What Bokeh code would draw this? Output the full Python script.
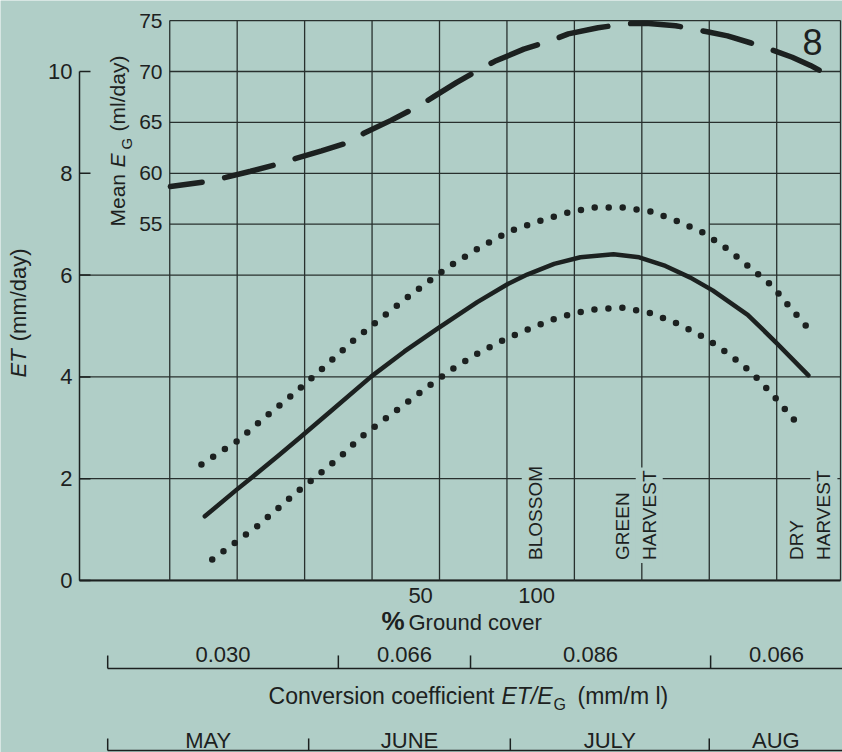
from math import pi

from bokeh.core.properties import value
from bokeh.embed import file_html
from bokeh.models import Range1d
from bokeh.plotting import figure
from bokeh.resources import INLINE

# ---------------------------------------------------------------------------
# Data (x = days counted from 1 May)
# ---------------------------------------------------------------------------
# Mean E_G (ml/day), dashed curve
eg_day = [10.1, 15.6, 18.3, 22.0, 26.0, 28.4, 32.5, 36.4, 38.7, 42.8,
          46.9, 49.1, 52.5, 55.9, 58.2, 62.5, 66.8, 69.1, 73.5, 77.9,
          80.6, 85.0, 89.7, 92.7, 96.2, 99.8, 102.3, 105.0, 107.5, 108.6]
eg_ml = [58.7, 59.2, 59.6, 60.2, 60.9, 61.4, 62.2, 63.0, 63.9, 65.2,
         66.6, 67.5, 68.9, 70.2, 71.0, 72.2, 73.1, 73.7, 74.3, 74.7,
         74.75, 74.5, 73.9, 73.5, 72.8, 72.0, 71.4, 70.6, 69.7, 69.3]

# ET (mm/day), solid curve
et_day = [15.2, 19.8, 22.4, 26.0, 29.4, 34.0, 39.9, 44.8, 49.7, 55.6,
          60.2, 63.0, 67.0, 70.9, 75.8, 79.6, 83.5, 87.2, 90.5, 95.7,
          100.1, 104.7]
et_mm = [1.26, 1.77, 2.05, 2.44, 2.82, 3.34, 4.01, 4.50, 4.95, 5.47,
         5.83, 6.01, 6.22, 6.35, 6.41, 6.35, 6.18, 5.95, 5.70, 5.22,
         4.65, 4.03]

# ET upper and lower limits, dotted curves
upper_day = [14.7, 19.9, 24.8, 28.2, 32.7, 37.1, 41.1, 46.0, 51.2, 56.2,
             60.4, 64.5, 68.5, 72.8, 77.1, 81.3, 85.1, 89.3, 92.8, 96.0,
             99.4, 102.0, 104.7]
upper_mm = [2.28, 2.73, 3.28, 3.65, 4.17, 4.70, 5.13, 5.64, 6.15, 6.56,
            6.86, 7.05, 7.21, 7.33, 7.33, 7.25, 7.07, 6.82, 6.50, 6.15,
            5.78, 5.36, 4.95]
lower_day = [16.3, 19.75, 22.9, 26.0, 28.8, 31.9, 35.2, 38.3, 42.0, 45.4,
             48.9, 52.2, 55.9, 59.9, 63.8, 67.6, 72.4, 77.1, 81.4, 85.6,
             89.6, 93.2, 96.4, 99.4, 102.3, 103.5]
lower_mm = [0.41, 0.75, 1.06, 1.41, 1.73, 2.06, 2.42, 2.81, 3.18, 3.52,
            3.87, 4.18, 4.48, 4.75, 4.97, 5.17, 5.32, 5.36, 5.25, 5.03,
            4.75, 4.42, 4.07, 3.65, 3.20, 3.01]

et_ticks = [0, 2, 4, 6, 8, 10]
et_grid = [0, 2, 4, 6]
eg_ticks = [75, 70, 65, 60, 55]
eg_grid_full = [60, 65, 70, 75]
grid_days = [10, 20, 30, 40, 50, 60, 70, 80, 90, 100]

# % ground cover reached on these days
cover_labels = ["50", "100"]
cover_day = [47.2, 64.4]

# conversion coefficient ET/E_G by period
coef_start = [0.8, 35.0, 54.6, 90.2]
coef_labels = ["0.030", "0.066", "0.086", "0.066"]

# months
month_start = [0.8, 30.6, 60.5, 90.0]
month_names = ["MAY", "JUNE", "JULY", "AUG"]

# crop stages (rotated labels)
stage_text = ["BLOSSOM", "GREEN", "HARVEST", "DRY", "HARVEST"]
stage_day = [64.2, 77.1, 81.1, 103.0, 107.0]

# ---------------------------------------------------------------------------
# Figure
# ---------------------------------------------------------------------------
BG = "#b0cec7"
INK = "#1c2120"
GRID = "#28302e"
FONT = "Liberation Sans"

X0, X1 = -15.095, 109.756
Y0, Y1 = -3.38, 11.395
AXIS_X = -3.38          # ET axis line
RIGHT = 109.46          # right border of the grid
TOP = 11.0              # ET value level with E_G = 75


def eg_of(et):
    return 20 + 5 * et


p = figure(width=842, height=752, output_backend="svg", toolbar_location=None,
           x_range=Range1d(X0, X1), y_range=Range1d(Y0, Y1),
           x_axis_location=None, y_axis_location=None,
           min_border=0)
p.extra_y_ranges = {"eg": Range1d(eg_of(Y0), eg_of(Y1))}
p.background_fill_color = BG
p.border_fill_color = BG
p.outline_line_color = None
p.grid.visible = False


def txt(x, y, s, size="22px", style="normal", align="center",
        baseline="middle", angle=0.0, rng="default", **kw):
    p.text(x=[x], y=[y], text=[s], text_font=value(FONT),
           text_font_size=size, text_font_style=style, text_align=align,
           text_baseline=baseline, angle=angle, text_color=INK,
           y_range_name=rng, **kw)


# --- grid -------------------------------------------------------------------
p.segment(x0=[AXIS_X] * len(et_grid), y0=et_grid, x1=[RIGHT] * len(et_grid),
          y1=et_grid, line_color=GRID, line_width=1.3)
p.segment(x0=[AXIS_X], y0=[0], x1=[RIGHT], y1=[0], line_color=INK,
          line_width=2)
p.segment(x0=[10] * len(eg_grid_full), y0=eg_grid_full,
          x1=[RIGHT] * len(eg_grid_full), y1=eg_grid_full,
          line_color=GRID, line_width=1.3, y_range_name="eg")
p.segment(x0=[10, 90], y0=[55, 55], x1=[50, RIGHT], y1=[55, 55],
          line_color=GRID, line_width=1.3, y_range_name="eg")
vx = grid_days + [RIGHT]
p.segment(x0=vx, y0=[0] * len(vx), x1=vx, y1=[TOP] * len(vx),
          line_color=GRID, line_width=1.3)

# --- ET axis ----------------------------------------------------------------
p.segment(x0=[AXIS_X], y0=[0], x1=[AXIS_X], y1=[10], line_color=INK,
          line_width=1.5)
p.segment(x0=[AXIS_X] * len(et_ticks), y0=et_ticks,
          x1=[AXIS_X + 1.63] * len(et_ticks), y1=et_ticks,
          line_color=INK, line_width=1.5)
p.text(x=[AXIS_X - 1.04] * len(et_ticks), y=et_ticks,
       text=[str(t) for t in et_ticks], text_font=value(FONT),
       text_font_size="22px", text_align="right", text_baseline="middle",
       text_color=INK)
txt(-12.36, 3.99, "ET", style="italic", align="left", angle=pi / 2)
txt(-12.36, 4.70, "(mm/day)", align="left", angle=pi / 2)

# --- E_G axis ---------------------------------------------------------------
p.text(x=[8.93] * len(eg_ticks), y=eg_ticks, text=[str(t) for t in eg_ticks],
       text_font=value(FONT), text_font_size="21px", text_align="right",
       text_baseline="middle", text_color=INK, y_range_name="eg")
txt(2.25, 54.77, "Mean", size="21px", align="left", angle=pi / 2, rng="eg")
txt(2.25, 60.57, "E", size="21px", style="italic", align="left",
    angle=pi / 2, rng="eg")
txt(3.59, 62.34, "G", size="15px", align="left", angle=pi / 2, rng="eg")
txt(2.25, 64.11, "(ml/day)", size="21px", align="left", angle=pi / 2,
    rng="eg")

# --- crop stages ------------------------------------------------------------
for s, d in zip(stage_text, stage_day):
    txt(d, 0.345, s, size="19px", align="left", angle=pi / 2,
        background_fill_color=BG, padding=3)

# figure number
txt(105.3, 10.57, "8", size="36px")

# --- curves -----------------------------------------------------------------
p.line(eg_day, eg_ml, line_color=INK, line_width=5.5, line_cap="round",
       line_dash="50 23", line_dash_offset=18, y_range_name="eg")
p.line(et_day, et_mm, line_color=INK, line_width=4.5, line_cap="round",
       line_join="round")
for dx, dy in [(upper_day, upper_mm), (lower_day, lower_mm)]:
    p.line(dx, dy, line_color=INK, line_width=6.5, line_cap="round",
           line_dash="0 14")

# --- scales under the axis --------------------------------------------------
p.text(x=cover_day, y=[-0.295] * len(cover_day), text=cover_labels,
       text_font=value(FONT), text_font_size="22px", text_align="center",
       text_baseline="middle", text_color=INK)
txt(43.1, -0.806, "%", size="26px", style="bold")
txt(45.4, -0.825, "Ground cover", align="left")

# conversion coefficient bracket
coef_end = coef_start[1:] + [X1]
p.segment(x0=[coef_start[0]], y0=[-1.729], x1=[X1], y1=[-1.729],
          line_color=INK, line_width=1.5)
p.segment(x0=coef_start, y0=[-1.473] * 4, x1=coef_start, y1=[-1.729] * 4,
          line_color=INK, line_width=1.5)
p.text(x=[(a + b) / 2 for a, b in zip(coef_start, coef_end)],
       y=[-1.464] * 4, text=coef_labels, text_font=value(FONT),
       text_font_size="22px", text_align="center",
       text_baseline="middle", text_color=INK)
txt(24.65, -2.279, "Conversion coefficient", size="23px", align="left")
txt(59.19, -2.279, "ET/E", size="23px", style="italic", align="left")
txt(66.9, -2.43, "G", size="16px", align="left")
txt(70.47, -2.279, "(mm/m l)", size="23px", align="left")

# month bracket
month_end = month_start[1:] + [X1]
p.segment(x0=[month_start[0]], y0=[-3.34], x1=[X1], y1=[-3.34],
          line_color=INK, line_width=1.5)
p.segment(x0=month_start, y0=[-3.104] * 4, x1=month_start, y1=[-3.34] * 4,
          line_color=INK, line_width=1.5)
p.text(x=[(a + b) / 2 for a, b in zip(month_start, month_end)],
       y=[-3.143] * 4, text=month_names, text_font=value(FONT),
       text_font_size="22px", text_align="center",
       text_baseline="middle", text_color=INK)

open("out.html", "w").write(file_html(p, INLINE))
